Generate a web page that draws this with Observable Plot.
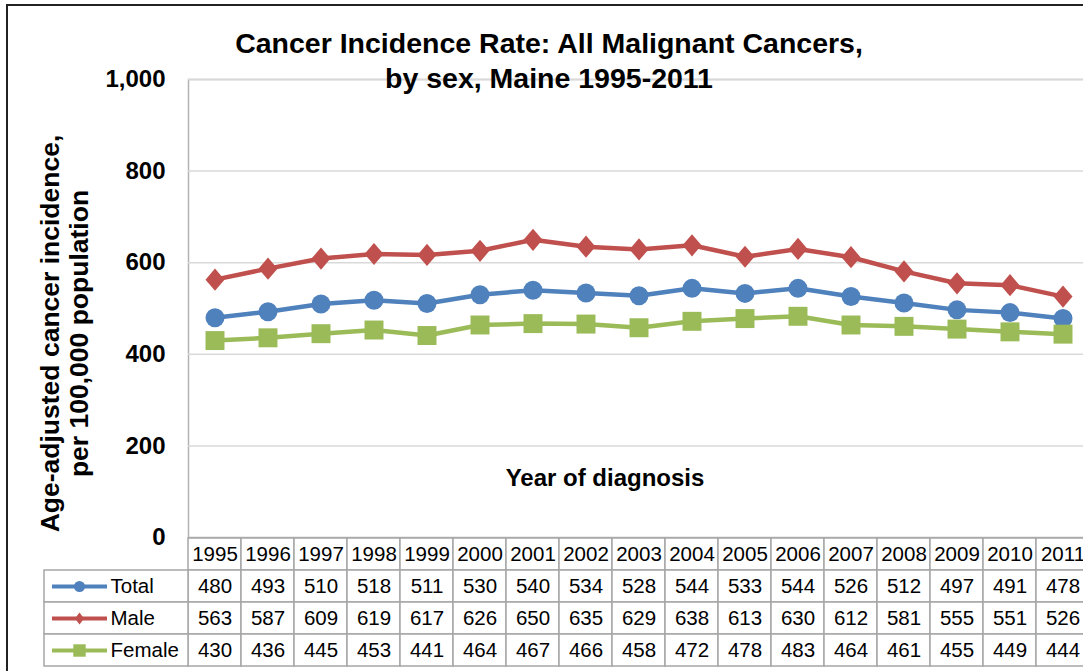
<!DOCTYPE html>
<html><head><meta charset="utf-8">
<script src="https://cdn.jsdelivr.net/npm/d3@7"></script>
<script src="https://cdn.jsdelivr.net/npm/@observablehq/plot@0.6"></script>
<style>
body{margin:0;background:#fff;}
#chart{position:relative;width:1083px;height:671px;overflow:hidden;background:#fff;font-family:"Liberation Sans",Arial,sans-serif;}
#chart svg{position:absolute;max-width:none;}
#frame{position:absolute;left:6px;top:4px;width:2000px;height:1000px;border-left:2px solid #222;border-top:2px solid #222;}
#title{position:absolute;left:0;top:26px;width:1098px;text-align:center;font-weight:bold;font-size:28.5px;line-height:35px;color:#000;z-index:5;}
</style></head><body>
<div id="chart"><div id="frame"></div></div>
<script>
// ---- data ----
const years = [1995,1996,1997,1998,1999,2000,2001,2002,2003,2004,2005,2006,2007,2008,2009,2010,2011];
const seriesNames = ["Total","Male","Female"];
const total  = [480,493,510,518,511,530,540,534,528,544,533,544,526,512,497,491,478];
const male   = [563,587,609,619,617,626,650,635,629,638,613,630,612,581,555,551,526];
const female = [430,436,445,453,441,464,467,466,458,472,478,483,464,461,455,449,444];
const yTicks = [0,200,400,600,800,1000];
const titleLines = ["Cancer Incidence Rate: All Malignant Cancers,", "by sex, Maine 1995-2011"];
const yTitle = "Age-adjusted cancer incidence,\nper 100,000 population";
const xTitle = "Year of diagnosis";

// ---- styles ----
function diamond(aspect){
  return {draw(ctx, size){
    const r = Math.sqrt(size/Math.PI);
    ctx.moveTo(0,-r*aspect); ctx.lineTo(r,0); ctx.lineTo(0,r*aspect); ctx.lineTo(-r,0); ctx.closePath();
  }};
}
const styleMap = {
  Total:  {color:"#4F81BD", symbol:"circle",        r:9.5, lr:5.5},
  Male:   {color:"#C0504D", symbol:diamond(1.17),   r:9.5, lr:4.5, lsymbol:diamond(1.35)},
  Female: {color:"#9BBB59", symbol:"square",        r:10.7, lr:7}
};
const valuesBySeries = {Total: total, Male: male, Female: female};
const rows = seriesNames.flatMap(s => years.map((yr,i)=>({series:s, year:yr, value:valuesBySeries[s][i]})));
const font = '"Liberation Sans",Arial,sans-serif';
const gridColor = "#d9d9d9", tableColor = "#a6a6a6";
const fmt = d3.format(",");

const chart = document.getElementById("chart");

// ---- main chart ----
const seriesMarks = seriesNames.flatMap(s => {
  const d = rows.filter(r => r.series === s), st = styleMap[s];
  return [
    Plot.line(d, {x:"year", y:"value", stroke: st.color, strokeWidth: 4.5}),
    Plot.dot(d, {x:"year", y:"value", symbol: st.symbol, r: st.r, fill: st.color, stroke: "none"})
  ];
});
const main = Plot.plot({
  width: 1100, height: 537,
  marginLeft: 188, marginRight: 11, marginTop: 79, marginBottom: 0,
  style: `left:0px;top:0px;max-width:none;background:transparent;overflow:visible;font-family:${font};font-size:24px;font-weight:bold;color:#000;`,
  x: {type:"band", domain: years, padding: 0, axis: null},
  y: {domain:[0,1000], ticks: yTicks, tickSize: 0, tickPadding: 23, tickFormat: d => fmt(d), label: null},
  marks: [
    Plot.frame({stroke: "#b3b3b3", strokeWidth: 1.5}),
    Plot.ruleY(yTicks.filter(v => v > 0), {stroke: gridColor, strokeWidth: 1.5}),
    Plot.text([yTitle], {text: d=>d, frameAnchor:"left", textAnchor:"middle", lineAnchor:"middle", rotate:-90, dx:-124, dy:25, fontSize:26.5, fontWeight:"bold", lineHeight:1.06, fill:"#000"}),
    Plot.text([xTitle], {text: d=>d, frameAnchor:"bottom", textAnchor:"middle", lineAnchor:"middle", dx:-34, dy:-59, fontSize:24, fontWeight:"bold", fill:"#000"}),
    ...seriesMarks
  ]
});
chart.appendChild(main);

// ---- data table ----
const tableRows = ["", ...seriesNames];
const tableCells = years.flatMap((yr,i) => [
  {year: yr, row: "", label: String(yr)},
  ...seriesNames.map(s => ({year: yr, row: s, label: String(valuesBySeries[s][i])}))
]);
const table = Plot.plot({
  width: 1100, height: 130,
  marginLeft: 188, marginRight: 11, marginTop: 0, marginBottom: 1,
  style: `left:0px;top:537px;max-width:none;background:transparent;overflow:visible;font-family:${font};font-size:20px;color:#000;`,
  x: {type:"band", domain: years, padding: 0, axis: null},
  y: {type:"band", domain: tableRows, padding: 0, axis: null},
  marks: [
    Plot.cell(tableCells, {x:"year", y:"row", fill:"white", stroke: tableColor, strokeWidth: 1.5}),
    Plot.text(tableCells, {x:"year", y:"row", text:"label", fontSize:20.5, fill:"#000"})
  ]
});
chart.appendChild(table);

// ---- legend column ----
const legendMarks = seriesNames.flatMap(s => {
  const st = styleMap[s];
  return [
    Plot.ruleY([s], {y: d=>d, stroke: st.color, strokeWidth: 4, insetLeft: 8, insetRight: 81}),
    Plot.dot([s], {y: d=>d, frameAnchor:"left", dx: 35, symbol: st.lsymbol || st.symbol, r: st.lr, fill: st.color, stroke:"none"}),
  ];
});
const legend = Plot.plot({
  width: 188, height: 130,
  marginLeft: 44, marginRight: 0, marginTop: 0, marginBottom: 1,
  style: `left:0px;top:537px;max-width:none;background:transparent;overflow:visible;font-family:${font};font-size:20px;color:#000;`,
  y: {type:"band", domain: tableRows, padding: 0, axis: null},
  marks: [
    Plot.cell(seriesNames, {y: d=>d, fill:"white", stroke: tableColor, strokeWidth: 1.5}),
    ...legendMarks,
    Plot.text(seriesNames, {y: d=>d, text: d=>d, frameAnchor:"left", textAnchor:"start", dx: 66, fontSize:20.5, fill:"#000"})
  ]
});
chart.appendChild(legend);

// ---- title ----
const title = document.createElement("div");
title.id = "title";
titleLines.forEach(t => { const l = document.createElement("div"); l.textContent = t; title.appendChild(l); });
chart.appendChild(title);
</script>
</body></html>
